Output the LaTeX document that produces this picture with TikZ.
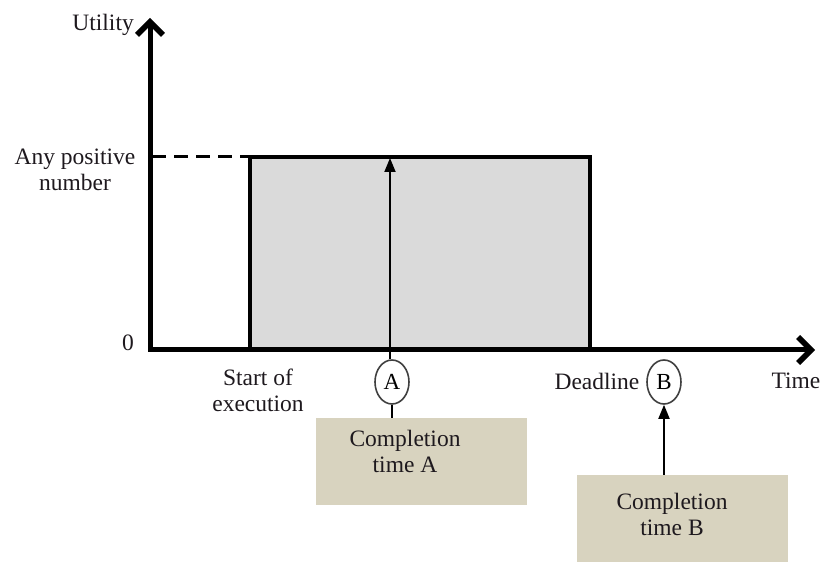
\documentclass[tikz,border=0pt]{standalone}
\usepackage{fontspec}
\setmainfont{Liberation Serif}
\usetikzlibrary{arrows.meta,shapes.geometric}
\definecolor{rectgray}{RGB}{218,218,218}
\definecolor{boxbeige}{RGB}{216,211,191}
\definecolor{txt}{RGB}{30,25,30}
\begin{document}
\begin{tikzpicture}[x=1pt,y=-1pt,
  lbl/.style={font=\fontsize{23.5}{26}\selectfont,text=txt,align=center,inner sep=0pt},
  axis/.style={line width=5pt,-{Straight Barb[length=13pt,width=26pt,line width=5.5pt]}},
  thinarrow/.style={line width=1.8pt,-{Triangle[length=14pt,width=11pt]}},
  circ/.style={ellipse,draw=black!75,line width=1.6pt,minimum width=34pt,minimum height=44pt,inner sep=0pt,fill=white,font=\fontsize{23}{26}\selectfont},
  cbox/.style={fill=boxbeige,minimum width=211pt,minimum height=87pt,inner sep=0pt}]
\useasboundingbox (0,0) rectangle (823,564);
% coordinates
\coordinate (ytop) at (150,18);
\coordinate (xend) at (815,350);
% rectangle
\draw[line width=4pt,fill=rectgray] (250,350) -- (250,157) -- (590,157) -- (590,350);
\draw[line width=3pt,dash pattern=on 14pt off 8pt] (152,157) -- (248,157);
% axes
\draw[axis,line cap=butt] (150,352) -- (ytop);
\draw[axis] (148,350) -- (xend);
% labels
\node[lbl,anchor=east] (util) at (134,25) {Utility};
\node[lbl] (anypos) at (75,170) {Any positive\\number};
\node[lbl] (zero) at (128,343) {0};
\node[lbl] (start) at (258,390) {Start of\\execution};
\node[lbl] (dead) at (597,381) {Deadline};
\node[lbl] (time) at (796,381) {Time};
% circles
\node[circ] (A) at (392,382) {A};
\node[circ] (B) at (664,382) {B};
% boxes
\node[cbox] (boxA) at (421.5,461.5) {};
\node[cbox] (boxB) at (682,518.5) {};
\node[lbl] (txtA) at (405,451) {Completion\\time A};
\node[lbl] (txtB) at (672,514) {Completion\\time B};
% arrows
\coordinate (Atop) at (390,158);
\draw[thinarrow] (A.north -| 390,0) -- (Atop);
\draw[line width=1.8pt] (A.south) -- (boxA.north -| A.south);
\draw[thinarrow] (boxB.north -| B.south) -- (B.south);
\end{tikzpicture}
\end{document}
